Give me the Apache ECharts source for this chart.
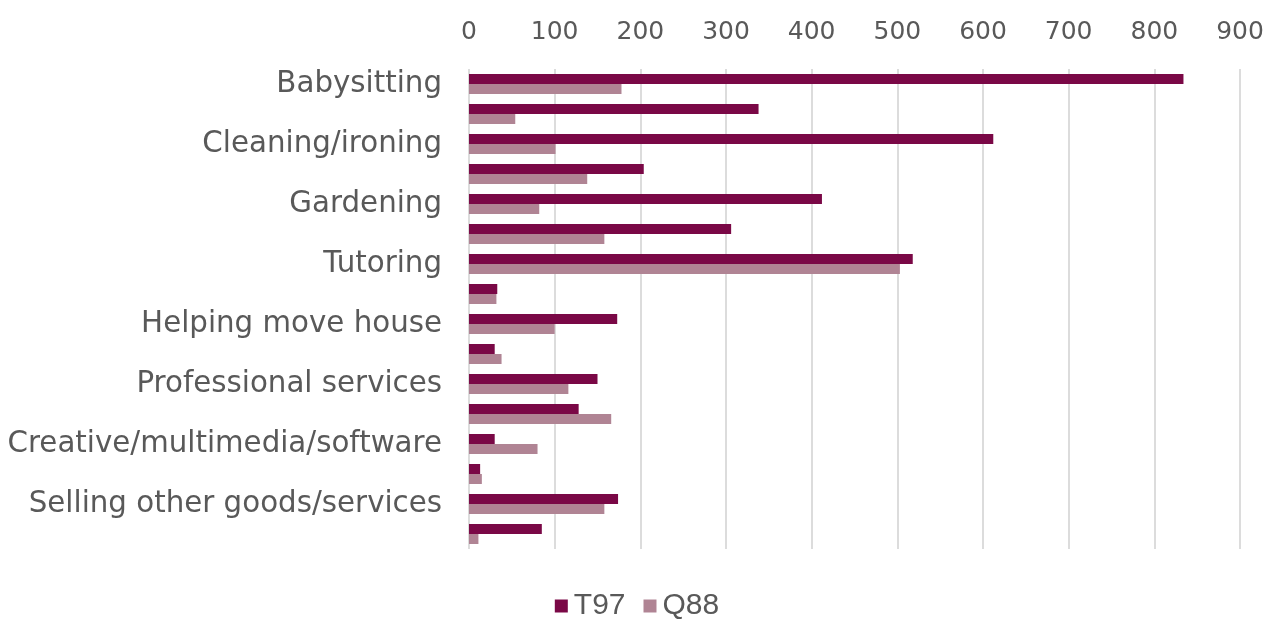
<!DOCTYPE html>
<html>
<head>
<meta charset="utf-8">
<script src="https://cdn.jsdelivr.net/npm/echarts@6/dist/echarts.min.js"></script>
<style>html,body{margin:0;padding:0;background:#fff}#c{width:1274px;height:619px}</style>
</head>
<body>
<div id="c"></div>
<script>
const categories = [
  'Babysitting', '', 'Cleaning/ironing', '', 'Gardening', '', 'Tutoring', '',
  'Helping move house', '', 'Professional services', '', 'Creative/multimedia/software', '',
  'Selling other goods/services', ''
];
const seriesNames = ['T97', 'Q88'];
const t97 = [834, 338, 612, 204, 412, 306, 518, 33, 173, 30, 150, 128, 30, 13, 174, 85];
const q88 = [178, 54, 101, 138, 82, 158, 503, 32, 100, 38, 116, 166, 80, 15, 158, 11];
const xTicks = { min: 0, max: 900, interval: 100 };

const chart = echarts.init(document.getElementById('c'));
chart.setOption({
  animation: false,
  grid: { left: 469, right: 34, top: 69, bottom: 70, containLabel: false },
  legend: {
    top: 586, left: 'center', itemWidth: 13, itemHeight: 13, itemGap: 18,
    icon: 'rect',
    textStyle: { fontFamily: 'Liberation Sans', fontSize: 30, color: '#595959', padding: [0, 0, 0, 1] },
    data: seriesNames
  },
  xAxis: {
    type: 'value', position: 'top', min: xTicks.min, max: xTicks.max, interval: xTicks.interval,
    axisLine: { show: false }, axisTick: { show: false },
    axisLabel: { fontFamily: 'DejaVu Sans', fontSize: 25, color: '#595959', margin: 24 },
    splitLine: { show: true, lineStyle: { color: '#D0D0D0', width: 1.5 } }
  },
  yAxis: {
    type: 'category', data: categories, inverse: true,
    axisLine: { show: false }, axisTick: { show: false },
    axisLabel: { interval: 0, fontFamily: 'DejaVu Sans', fontSize: 29.3, color: '#595959', margin: 27 }
  },
  series: [
    { name: seriesNames[0], type: 'bar', data: t97, barWidth: 10, barGap: '0%',
      itemStyle: { color: '#7A0846' } },
    { name: seriesNames[1], type: 'bar', data: q88, barWidth: 10, barGap: '0%',
      itemStyle: { color: '#B08494' } }
  ]
});
</script>
</body>
</html>
